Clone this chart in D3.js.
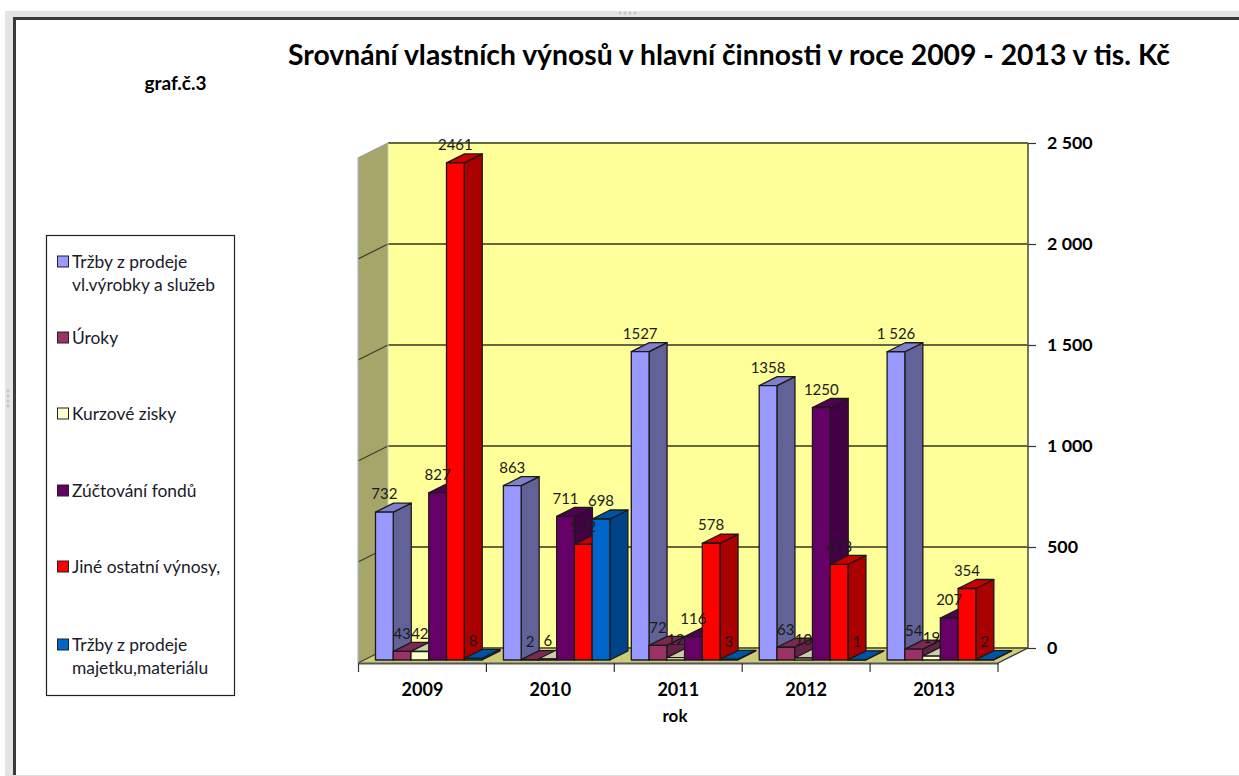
<!DOCTYPE html>
<html>
<head>
<meta charset="utf-8">
<script src="https://cdn.jsdelivr.net/npm/d3@7"></script>
<style>
    html, body { margin: 0; padding: 0; background: #fff; overflow: hidden; }
    svg { display: block; }
    text { font-family: Lato, 'Open Sans', sans-serif; }
</style>
</head>
<body>
<div id="graph"></div>
<script>
var years = ['2009', '2010', '2011', '2012', '2013'];
var seriesNames = ['Tržby z prodeje vl.výrobky a služeb', 'Úroky', 'Kurzové zisky', 'Zúčtování fondů', 'Jiné ostatní výnosy,', 'Tržby z prodeje majetku,materiálu'];

var trzby = [732, 863, 1527, 1358, 1526];
var uroky = [43, 2, 72, 63, 54];
var kurzove = [42, 6, 12, 10, 19];
var fondy = [827, 711, 116, 1250, 207];
var jine = [2461, 572, 578, 473, 354];
var majetek = [8, 698, 3, 1, 2];
var seriesValues = [trzby, uroky, kurzove, fondy, jine, majetek];

var yTicks = [0, 500, 1000, 1500, 2000, 2500];

// front, side and top colour of each series
var frontColors = ['#9999ff', '#993366', '#ffffcc', '#660066', '#ff0000', '#0066cc'];
var sideColors = ['#626299', '#662244', '#aaaa88', '#440044', '#aa0000', '#004488'];
var topColors = ['#7f7fcc', '#7a2952', '#ccccaa', '#520052', '#cc0000', '#0052a3'];

var legendLines = [
    ['Tržby z prodeje', 'vl.výrobky a služeb'],
    ['Úroky'],
    ['Kurzové zisky'],
    ['Zúčtování fondů'],
    ['Jiné ostatní výnosy,'],
    ['Tržby z prodeje', 'majetku,materiálu']
];
var legendY = [262, 338, 414, 491, 567, 645];

var width = 1239,
    height = 776;

var svg = d3.select('#graph')
    .append('svg')
    .attr('width', width)
    .attr('height', height);

// window frame around the chart
svg.append('rect').attr('x', 5).attr('y', 11).attr('width', width - 5).attr('height', 6).style('fill', '#e4e4e4');
svg.append('rect').attr('x', 5).attr('y', 11).attr('width', 8).attr('height', height - 11).style('fill', '#e4e4e4');
svg.append('rect').attr('x', 13).attr('y', 17).attr('width', width - 13).attr('height', 3).style('fill', '#3a3a3a');
svg.append('rect').attr('x', 13).attr('y', 17).attr('width', 3).attr('height', height - 17).style('fill', '#3a3a3a');
svg.append('rect').attr('x', 5).attr('y', 775).attr('width', width - 5).attr('height', 1).style('fill', '#dddddd');

[0, 1, 2, 3].forEach(function(i) {
    svg.append('circle').attr('cx', 620 + i * 5).attr('cy', 13).attr('r', 1.5).style('fill', '#c4c4c4');
    svg.append('circle').attr('cx', 8).attr('cy', 391 + i * 5).attr('r', 1.5).style('fill', '#c4c4c4');
});

// x positions are on the front edge of the floor, y on the back wall
var x = d3.scaleBand()
    .domain(years)
    .range([358.5, 998]);

var xBar = d3.scaleBand()
    .domain(seriesNames)
    .range([17, 123.5]);

var y = d3.scaleLinear()
    .domain([0, 2500])
    .range([648, 143]);

var wallLeft = 388,
    wallRight = 1028,
    wallDx = 30,
    wallDy = 15,
    barDx = 18,
    barDy = 9,
    barShift = 12;

function points(list) {
    return list.map(function(p) { return p.join(','); }).join(' ');
}

// walls and floor
svg.append('rect')
    .attr('x', wallLeft)
    .attr('y', y(2500))
    .attr('width', wallRight - wallLeft)
    .attr('height', y(0) - y(2500))
    .style('fill', '#ffff99');

svg.append('polygon')
    .attr('points', points([[wallLeft, y(2500)], [wallLeft, y(0)], [wallLeft - wallDx, y(0) + wallDy], [wallLeft - wallDx, y(2500) + wallDy]]))
    .style('fill', '#a6a66a');

svg.append('polygon')
    .attr('points', points([[wallLeft, y(0)], [wallRight, y(0)], [wallRight - wallDx, y(0) + wallDy], [wallLeft - wallDx, y(0) + wallDy]]))
    .style('fill', '#cccc7a');

// grid lines
svg.append('g')
    .selectAll('line')
    .data(yTicks)
    .enter().append('line')
    .attr('x1', wallLeft)
    .attr('x2', wallRight)
    .attr('y1', function(d) { return y(d); })
    .attr('y2', function(d) { return y(d); })
    .style('stroke', '#68683f')
    .style('stroke-width', 1.8);

svg.append('g')
    .selectAll('line')
    .data(yTicks)
    .enter().append('line')
    .attr('x1', wallLeft)
    .attr('x2', wallLeft - wallDx)
    .attr('y1', function(d) { return y(d); })
    .attr('y2', function(d) { return y(d) + wallDy; })
    .style('stroke', function(d) { return d == 2500 ? '#9a9a9a' : '#3a3a2a'; })
    .style('stroke-width', 1.2);

// wall edges
svg.append('line').attr('x1', wallRight).attr('x2', wallRight).attr('y1', y(2500)).attr('y2', y(0))
    .style('stroke', '#68684f').style('stroke-width', 1.8);
svg.append('line').attr('x1', wallLeft - wallDx).attr('x2', wallLeft - wallDx).attr('y1', y(2500) + wallDy).attr('y2', y(0) + wallDy)
    .style('stroke', '#a9b8c8').style('stroke-width', 1.2);
svg.append('line').attr('x1', wallLeft).attr('x2', wallLeft).attr('y1', y(2500)).attr('y2', y(0))
    .style('stroke', '#c8d0c0').style('stroke-width', 1);
svg.append('line').attr('x1', wallRight).attr('x2', wallRight - wallDx).attr('y1', y(0)).attr('y2', y(0) + wallDy)
    .style('stroke', '#333').style('stroke-width', 1.2);

// value axis on the right
var yAxis = d3.axisRight(y)
    .tickValues(yTicks)
    .tickSize(8)
    .tickPadding(11)
    .tickFormat(function(d) { return d3.format(',')(d).replace(',', ' '); });

var yAxisG = svg.append('g')
    .attr('transform', 'translate(' + wallRight + ',0)')
    .call(yAxis);
yAxisG.select('.domain').remove();
yAxisG.selectAll('line').style('stroke', '#333').style('stroke-width', 1.2);
yAxisG.selectAll('text')
    .style('font-family', 'Lato, sans-serif')
    .style('font-size', '17.8px')
    .style('font-weight', 'bold')
    .style('fill', '#000');

// bars, series by series inside each year, so the right neighbour covers the side face
var barWidth = xBar.bandwidth();
var bars = svg.append('g');
var labels = svg.append('g');

years.forEach(function(year, i) {
    seriesNames.forEach(function(name, s) {
        var v = seriesValues[s][i];
        var x0 = x(year) + xBar(name);
        var x1 = x0 + barWidth;
        var yTop = y(v) + barShift;
        var yBase = y(0) + barShift;
        var bar = bars.append('g')
            .style('stroke', '#1a1a1a')
            .style('stroke-width', 1.3)
            .style('stroke-linejoin', 'round');

        bar.append('polygon')
            .attr('points', points([[x1, yTop], [x1 + barDx, yTop - barDy], [x1 + barDx, yBase - barDy], [x1, yBase]]))
            .style('fill', sideColors[s]);
        bar.append('polygon')
            .attr('points', points([[x0, yTop], [x0 + barDx, yTop - barDy], [x1 + barDx, yTop - barDy], [x1, yTop]]))
            .style('fill', topColors[s]);
        bar.append('rect')
            .attr('x', x0)
            .attr('y', yTop)
            .attr('width', barWidth)
            .attr('height', yBase - yTop)
            .style('fill', frontColors[s]);

        labels.append('text')
            .attr('x', x0 + barWidth / 2)
            .attr('y', yTop - 18)
            .attr('dy', '0.35em')
            .attr('text-anchor', 'middle')
            .style('font-size', '15px')
            .style('fill', '#1a1a1a')
            .text(v == 1526 ? '1 526' : v);
    });
});

// category axis on the front edge of the floor
var xAxis = d3.axisBottom(x)
    .tickSize(0)
    .tickPadding(20);

var xAxisG = svg.append('g')
    .attr('transform', 'translate(0,' + (y(0) + wallDy) + ')')
    .call(xAxis);
xAxisG.select('.domain').style('stroke', '#555').style('stroke-width', 2);
xAxisG.selectAll('text')
    .style('font-family', 'Lato, sans-serif')
    .style('font-size', '18px')
    .style('font-weight', 'bold')
    .style('fill', '#000');

xAxisG.selectAll('.boundary')
    .data(d3.range(years.length + 1))
    .enter().append('line')
    .attr('class', 'boundary')
    .attr('x1', function(d) { return x.range()[0] + d * x.step(); })
    .attr('x2', function(d) { return x.range()[0] + d * x.step(); })
    .attr('y1', 0)
    .attr('y2', 9)
    .style('stroke', '#333')
    .style('stroke-width', 1.2);

labels.raise();

// titles
svg.append('text')
    .attr('x', 729)
    .attr('y', 65)
    .attr('text-anchor', 'middle')
    .style('font-size', '28.3px')
    .style('font-weight', 'bold')
    .text('Srovnání vlastních výnosů v hlavní činnosti v roce 2009 - 2013 v tis. Kč');

svg.append('text')
    .attr('x', 175.5)
    .attr('y', 90)
    .attr('text-anchor', 'middle')
    .style('font-size', '19px')
    .style('font-weight', 'bold')
    .text('graf.č.3');

svg.append('text')
    .attr('x', 675)
    .attr('y', 722)
    .attr('text-anchor', 'middle')
    .style('font-size', '17px')
    .style('font-weight', 'bold')
    .text('rok');

// legend
svg.append('rect')
    .attr('x', 46.5)
    .attr('y', 235.5)
    .attr('width', 188)
    .attr('height', 460)
    .style('fill', '#fff')
    .style('stroke', '#222')
    .style('stroke-width', 1.2);

legendLines.forEach(function(lines, s) {
    svg.append('rect')
        .attr('x', 57.5)
        .attr('y', legendY[s] - 6)
        .attr('width', 11)
        .attr('height', 11)
        .style('fill', frontColors[s])
        .style('stroke', '#222');
    lines.forEach(function(line, l) {
        svg.append('text')
            .attr('x', 72)
            .attr('y', legendY[s] + l * 22.5)
            .attr('dy', '0.35em')
            .style('font-size', '17.4px')
            .style('fill', '#1a1a2a')
            .text(line);
    });
});
</script>
</body>
</html>
